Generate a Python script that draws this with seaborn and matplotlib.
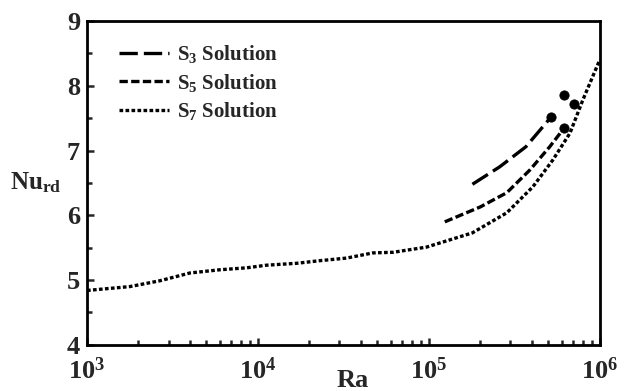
import numpy as np
import pandas as pd
import matplotlib
matplotlib.use("Agg")
import matplotlib.pyplot as plt
import seaborn as sns
from matplotlib.ticker import LogLocator, NullFormatter, MultipleLocator, LogFormatterSciNotation

sns.set_style("white")
plt.rcParams['font.family'] = ['Liberation Serif', 'DejaVu Serif']
plt.rcParams['font.weight'] = 'bold'
plt.rcParams['mathtext.fontset'] = 'custom'
plt.rcParams['mathtext.rm'] = 'Liberation Serif:bold'
plt.rcParams['mathtext.bf'] = 'Liberation Serif:bold'
plt.rcParams['mathtext.it'] = 'Liberation Serif:bold'
plt.rcParams['mathtext.default'] = 'bf'

# S3 solution
ra_s3 = [1.8e5, 2.6e5, 3.7e5, 5.2e5]
nu_s3 = [6.48, 6.75, 7.06, 7.52]
# S5 solution
ra_s5 = [1.24e5, 2.0e5, 2.86e5, 3.9e5, 5.1e5, 6.2e5]
nu_s5 = [5.90, 6.13, 6.35, 6.70, 7.06, 7.35]
# S7 solution
ra_s7 = [1.0e3, 1.78e3, 2.67e3, 4.0e3, 6.0e3, 8.6e3, 1.12e4, 1.69e4, 2.3e4, 3.3e4,
         4.7e4, 6.2e4, 9.7e4, 1.8e5, 2.86e5, 4.06e5, 5.3e5, 6.7e5, 7.96e5, 1.0e6]
nu_s7 = [4.84, 4.90, 4.99, 5.11, 5.16, 5.19, 5.23, 5.26, 5.30, 5.34,
         5.42, 5.43, 5.51, 5.73, 6.04, 6.44, 6.85, 7.27, 7.78, 8.40]
# marked points
ra_pts = [5.2e5, 6.2e5, 6.15e5, 7.1e5]
nu_pts = [7.52, 7.35, 7.86, 7.72]

labels = ["S$_3$ Solution", "S$_5$ Solution", "S$_7$ Solution"]

fig = plt.figure(figsize=(6.26, 3.91), dpi=100)
ax = fig.add_axes([0.139, 0.118, 0.819, 0.828])

lw = 2.4
sns.lineplot(x=ra_s3, y=nu_s3, ax=ax, color='black', lw=lw, label=labels[0])
sns.lineplot(x=ra_s5, y=nu_s5, ax=ax, color='black', lw=lw, label=labels[1])
sns.lineplot(x=ra_s7, y=nu_s7, ax=ax, color='black', lw=lw, label=labels[2])
lines = ax.get_lines()
lines[0].set_dashes([5.5, 1.8])
lines[1].set_dashes([2.5, 1.0])
lines[2].set_dashes([1.1, 0.7])
for l in lines:
    l.set_dash_capstyle('butt')
sns.scatterplot(x=ra_pts, y=nu_pts, ax=ax, color='black', s=45, edgecolor='black', zorder=5)

ax.set_xscale('log')
ax.set_xlim(1e3, 1e6)
ax.set_ylim(4, 9)
ax.xaxis.set_major_locator(LogLocator(base=10, numticks=10))
ax.xaxis.set_minor_locator(LogLocator(base=10, subs=np.arange(2, 10), numticks=20))
ax.xaxis.set_minor_formatter(NullFormatter())
ax.xaxis.set_major_formatter(LogFormatterSciNotation())
ax.yaxis.set_major_locator(MultipleLocator(1))
ax.yaxis.set_minor_locator(MultipleLocator(0.5))

for s in ax.spines.values():
    s.set_visible(True)
    s.set_linewidth(2.0)
    s.set_color('black')
ax.tick_params(axis='both', which='both', direction='in', bottom=True, left=True,
               top=False, right=False, width=1.8, labelsize=19)
ax.tick_params(axis='x', which='major', pad=9)
ax.tick_params(axis='y', which='major', pad=5)
ax.tick_params(which='major', length=5)
ax.tick_params(which='minor', length=3.5)
for t in ax.get_xticklabels() + ax.get_yticklabels():
    t.set_fontweight('bold')

ax.set_xlabel('Ra', fontsize=19, fontweight='bold')
ax.xaxis.set_label_coords(0.518, -0.075)
ax.xaxis.label.set_va('top')
ax.set_ylabel('Nu$_{rd}$', fontsize=18, fontweight='bold', rotation=0, labelpad=22, va='center')

leg = ax.legend(loc='upper left', bbox_to_anchor=(0.046, 0.958), frameon=False,
                prop={'family': 'Liberation Serif', 'weight': 'bold', 'size': 15},
                handlelength=2.4, handletextpad=0.4, labelspacing=0.32, borderaxespad=0)

fig.savefig('out.png', dpi=100)
